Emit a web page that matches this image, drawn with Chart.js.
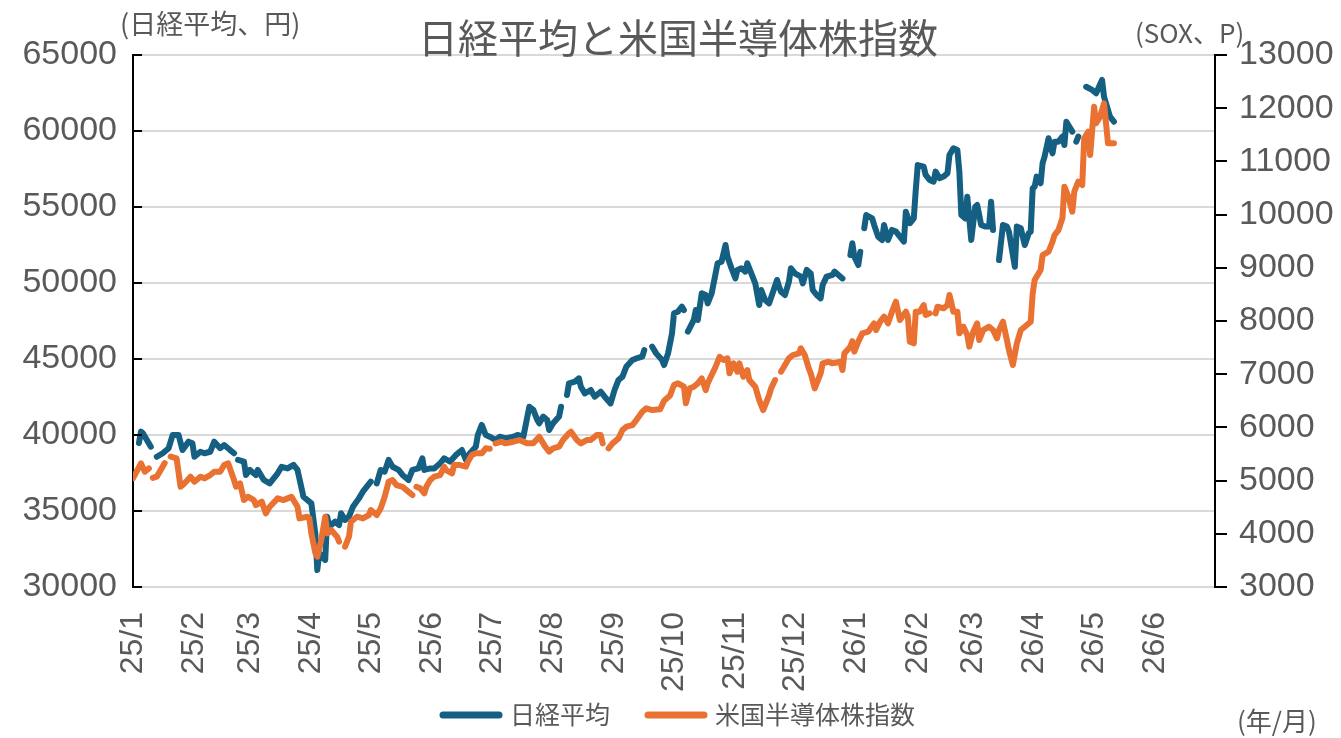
<!DOCTYPE html>
<html>
<head>
<meta charset="utf-8">
<script src="https://cdn.jsdelivr.net/npm/chart.js@4.4.1/dist/chart.umd.min.js"></script>
<style>
  html, body { margin: 0; padding: 0; background: #fff; }
</style>
</head>
<body>
<canvas id="chart" width="1341" height="738"></canvas>
<script>
// month tick labels (year/month)
const monthLabels = ['25/1','25/2','25/3','25/4','25/5','25/6','25/7','25/8','25/9','25/10','25/11','25/12',
                     '26/1','26/2','26/3','26/4','26/5','26/6'];
const monthStarts = ['25/01/01','25/02/01','25/03/01','25/04/01','25/05/01','25/06/01','25/07/01','25/08/01',
                     '25/09/01','25/10/01','25/11/01','25/12/01','26/01/01','26/02/01','26/03/01','26/04/01',
                     '26/05/01','26/06/01'];
const axisEnd = '26/07/01';

// Nikkei 225 (yen), null = market closed
const nikkeiDates = [
  '25/01/04','25/01/05','25/01/06','25/01/10','25/01/12','25/01/13','25/01/16','25/01/19','25/01/21','25/01/24','25/01/26','25/01/29','25/01/31',
  '25/02/01','25/02/04','25/02/06','25/02/09','25/02/11','25/02/14','25/02/16','25/02/19','25/02/21','25/02/22','25/02/23','25/02/26','25/02/27',
  '25/03/01','25/03/04','25/03/05','25/03/08','25/03/11','25/03/15','25/03/17','25/03/20','25/03/23','25/03/25','25/03/28','25/03/30',
  '25/04/01','25/04/03','25/04/04','25/04/05','25/04/08','25/04/09','25/04/10','25/04/13','25/04/15','25/04/16','25/04/18','25/04/20','25/04/22','25/04/25','25/04/27',
  '25/05/01','25/05/03','25/05/04','25/05/06','25/05/08','25/05/10','25/05/12','25/05/15','25/05/17','25/05/20','25/05/22','25/05/25','25/05/27','25/05/28','25/05/31',
  '25/06/02','25/06/05','25/06/07','25/06/10','25/06/13','25/06/16','25/06/18','25/06/20','25/06/23','25/06/24','25/06/26','25/06/28','25/06/30',
  '25/07/03','25/07/05','25/07/08','25/07/12','25/07/14','25/07/17','25/07/19','25/07/20','25/07/22','25/07/24','25/07/25','25/07/27','25/07/29','25/07/30',
  '25/08/01','25/08/04','25/08/05','25/08/06','25/08/08','25/08/09','25/08/12','25/08/14','25/08/15','25/08/17','25/08/20','25/08/22','25/08/25','25/08/27','25/08/30',
  '25/09/01','25/09/03','25/09/05','25/09/07','25/09/10','25/09/12','25/09/15','25/09/16','25/09/18','25/09/20','25/09/22','25/09/25','25/09/26','25/09/28','25/09/30',
  '25/10/01','25/10/03','25/10/05','25/10/06','25/10/07','25/10/08','25/10/11','25/10/12','25/10/13','25/10/15','25/10/17','25/10/18','25/10/20','25/10/22','25/10/23','25/10/25','25/10/27','25/10/28','25/10/30',
  '25/11/01','25/11/02','25/11/04','25/11/06','25/11/07','25/11/09','25/11/11','25/11/13','25/11/14','25/11/16','25/11/18','25/11/20','25/11/22','25/11/23','25/11/24','25/11/26','25/11/28','25/11/29',
  '25/12/01','25/12/04','25/12/05','25/12/07','25/12/09','25/12/10','25/12/12','25/12/14','25/12/15','25/12/17','25/12/20','25/12/21','25/12/23','25/12/25','25/12/27','25/12/29','25/12/30','25/12/31',
  '26/01/02','26/01/03','26/01/04','26/01/05','26/01/06','26/01/09','26/01/10','26/01/12','26/01/14','26/01/15','26/01/17','26/01/19','26/01/21','26/01/23','26/01/25','26/01/26','26/01/28','26/01/30','26/01/31',
  '26/02/01','26/02/04','26/02/05','26/02/07','26/02/09','26/02/10','26/02/12','26/02/14','26/02/16','26/02/17','26/02/19','26/02/21','26/02/22','26/02/23','26/02/25','26/02/26','26/02/28',
  '26/03/02','26/03/03','26/03/05','26/03/07','26/03/09','26/03/10','26/03/11','26/03/12','26/03/14','26/03/16','26/03/18','26/03/19','26/03/22','26/03/23','26/03/25','26/03/27','26/03/29','26/03/30','26/03/31',
  '26/04/01','26/04/02','26/04/04','26/04/05','26/04/06','26/04/08','26/04/10','26/04/11','26/04/13','26/04/15','26/04/16','26/04/17','26/04/19','26/04/20','26/04/21','26/04/22','26/04/23','26/04/25','26/04/27','26/04/30',
  '26/05/02','26/05/05','26/05/06','26/05/07','26/05/09','26/05/11'
];
const nikkeiValues = [
  39470,40220,40110,39230,null,38570,38800,39130,40000,40000,39010,39560,39450,
  38570,38900,38800,38900,39560,39130,39340,39010,38800,null,38360,38250,37370,
  37700,37370,37700,37040,36820,37480,37910,37800,38030,37700,35940,35720,
  35500,33530,31120,32220,31780,34630,33970,34300,34080,34850,34410,34630,35280,35830,36270,
  36930,null,36820,37700,37590,38360,37910,37700,37370,37040,37700,37800,38470,37700,37800,
  37800,38140,38470,38250,38690,39010,38360,38800,39230,40000,40660,40000,39890,
  39670,39890,39780,39890,40000,39890,41210,41860,41650,40990,40770,41210,40990,40330,
  40770,41210,41860,null,42630,43400,43510,43730,43180,42740,42960,42520,42850,42520,42080,
  42960,43620,43840,44510,44930,45040,45150,45590,null,45810,45370,44930,44600,45370,46690,
  48010,48110,48440,48220,null,46800,47570,48220,47570,49320,49210,48660,49320,50630,51300,51400,52500,51730,50970,
  50300,50860,50970,50750,51300,50630,49980,48550,49540,48880,48660,49430,50200,49760,49430,49210,50090,50970,
  50630,50420,49980,50860,50630,49540,49210,48990,49870,50420,50530,50750,50530,50300,null,51840,52610,51730,
  51180,52060,null,53600,54470,54250,53820,53050,52830,53820,52830,53490,53380,53050,52720,54690,53930,54250,56120,
  57760,57650,57110,56780,56670,57330,56890,57000,57220,58420,58860,58750,57330,54470,54250,55680,52830,
  55020,55130,53820,53710,53710,55350,53490,null,51510,53820,53710,53380,51070,53710,53600,52500,53270,53380,56230,
  56340,57000,56560,57880,58310,59520,58530,59300,59300,59630,59080,60610,60180,59960,null,59300,59630,null,62910,62700,
  62480,63360,62260,61820,60940,60610
];

// Philadelphia semiconductor index (points), null = market closed
const soxDates = [
  '25/01/01','25/01/05','25/01/07','25/01/09','25/01/10','25/01/11','25/01/13','25/01/15','25/01/17','25/01/18','25/01/20','25/01/23','25/01/25','25/01/27','25/01/30',
  '25/02/01','25/02/04','25/02/06','25/02/09','25/02/11','25/02/14','25/02/16','25/02/18','25/02/21','25/02/22','25/02/24','25/02/26','25/02/28',
  '25/03/03','25/03/04','25/03/07','25/03/09','25/03/11','25/03/15','25/03/18','25/03/20','25/03/22','25/03/25','25/03/26','25/03/30','25/03/31',
  '25/04/01','25/04/03','25/04/04','25/04/06','25/04/08','25/04/09','25/04/11','25/04/14','25/04/15','25/04/17','25/04/18','25/04/20','25/04/21','25/04/24','25/04/27','25/04/30',
  '25/05/01','25/05/04','25/05/06','25/05/08','25/05/10','25/05/12','25/05/14','25/05/17','25/05/19','25/05/22','25/05/23','25/05/24','25/05/26','25/05/28','25/05/29','25/05/31',
  '25/06/02','25/06/05','25/06/07','25/06/08','25/06/11','25/06/12','25/06/15','25/06/18','25/06/19','25/06/21','25/06/23','25/06/26','25/06/28','25/06/30',
  '25/07/02','25/07/03','25/07/06','25/07/08','25/07/12','25/07/15','25/07/19','25/07/22','25/07/25','25/07/28','25/07/30',
  '25/08/01','25/08/04','25/08/06','25/08/09','25/08/10','25/08/13','25/08/15','25/08/18','25/08/20','25/08/23','25/08/25','25/08/26','25/08/28','25/08/29','25/08/31',
  '25/09/03','25/09/05','25/09/07','25/09/10','25/09/12','25/09/15','25/09/17','25/09/20','25/09/24','25/09/26','25/09/29',
  '25/10/01','25/10/03','25/10/06','25/10/07','25/10/09','25/10/11','25/10/13','25/10/15','25/10/17','25/10/18','25/10/20','25/10/22','25/10/24','25/10/26','25/10/28','25/10/29','25/10/31',
  '25/11/02','25/11/03','25/11/05','25/11/07','25/11/08','25/11/11','25/11/13','25/11/15','25/11/18','25/11/19','25/11/21','25/11/23','25/11/24','25/11/26','25/11/28','25/11/30',
  '25/12/03','25/12/04','25/12/06','25/12/08','25/12/09','25/12/11','25/12/14','25/12/15','25/12/18','25/12/20','25/12/24','25/12/25','25/12/26','25/12/29','25/12/30','25/12/31',
  '26/01/02','26/01/04','26/01/07','26/01/10','26/01/11','26/01/13','26/01/15','26/01/17','26/01/19','26/01/21','26/01/23','26/01/26','26/01/27','26/01/28','26/01/30','26/01/31',
  '26/02/02','26/02/04','26/02/05','26/02/07','26/02/09','26/02/10','26/02/11','26/02/14','26/02/16','26/02/17','26/02/19','26/02/21','26/02/22','26/02/24','26/02/26','26/02/27',
  '26/03/01','26/03/03','26/03/04','26/03/06','26/03/09','26/03/11','26/03/13','26/03/14','26/03/16','26/03/18','26/03/19','26/03/21','26/03/23','26/03/25','26/03/27','26/03/30','26/03/31',
  '26/04/01','26/04/04','26/04/05','26/04/08','26/04/10','26/04/11','26/04/13','26/04/15','26/04/16','26/04/18','26/04/20','26/04/21','26/04/23','26/04/25','26/04/26','26/04/28','26/04/29',
  '26/05/01','26/05/02','26/05/04','26/05/06','26/05/07','26/05/08','26/05/11'
];
const soxValues = [
  5042,5324,5167,5230,null,5050,5074,5198,5330,null,5450,5418,4884,4948,5074,
  4979,5074,5042,5104,5167,5167,5292,5324,5010,4884,4948,4634,4697,
  4634,4540,4603,4384,4509,4666,4634,4666,4697,4509,4290,4321,4290,
  4008,3640,3569,3882,4321,4008,4070,3945,3851,null,3757,3945,4227,4321,4290,4352,
  4446,4352,4478,4697,4978,5010,4916,4884,4822,4728,null,4884,4854,4760,4884,5010,
  5074,5104,5262,5198,5136,5292,5292,5262,5354,5480,5512,5512,5606,5600,
  null,5700,5731,5700,5731,5762,5700,5700,5825,5638,5544,
  5606,5638,5762,5888,5919,5762,5700,5762,5762,5856,5856,5700,null,5606,5700,
  5794,5950,6014,6044,6138,6294,6358,6326,6340,6500,6600,
  6796,6828,6765,6452,6734,6765,6828,6922,6702,6828,6984,7140,7328,7266,7298,7016,7204,
  7047,7204,6952,7078,6890,6765,6514,6326,6608,6734,6890,null,7047,7172,7298,7360,
  7392,7486,7360,7110,7016,6734,7016,7204,7234,7204,7234,7078,7392,7518,7620,7424,
  7612,7768,7800,7956,7830,7987,8082,7956,8175,8363,8018,8175,8082,7612,7580,8175,
  8175,8300,8112,8144,null,8144,8269,8238,8300,8488,8175,8175,7768,7893,7736,7518,
  7799,7956,7642,7830,7893,7830,7674,7830,7987,7642,7454,7172,7580,7830,7893,7987,8520,
  8770,8958,9240,9302,9490,9616,9710,9930,10524,10336,10055,10430,10618,10556,11434,11558,11120,
  12028,11716,11840,12092,11716,11340,11340
];

const NIKKEI_COLOR = '#156082';
const SOX_COLOR = '#E97132';
const TEXT_COLOR = '#595959';
const FONT = "'Liberation Sans', 'Noto Sans CJK JP', sans-serif";
const JP_FONT = "'Noto Sans CJK JP', 'Liberation Sans', sans-serif";

// days since 2025-01-01 for a 'yy/mm/dd' string
function toDay(s) {
  const [yy, mm, dd] = s.split('/').map(Number);
  return (Date.UTC(2000 + yy, mm - 1, dd) - Date.UTC(2025, 0, 1)) / 86400000;
}

function toPoints(dates, values) {
  return dates.map((d, i) => ({ x: toDay(d), y: values[i] }));
}

Chart.defaults.font.family = FONT;
Chart.defaults.color = TEXT_COLOR;

// extra drawing: title, unit labels, legend, inward ticks on the left axis
const decorations = {
  id: 'decorations',
  afterDraw(chart) {
    const ctx = chart.ctx;
    const area = chart.chartArea;
    ctx.save();

    // inward tick marks on the left axis
    ctx.strokeStyle = '#000';
    ctx.lineWidth = 2;
    chart.scales.y.ticks.forEach(t => {
      const y = Math.round(chart.scales.y.getPixelForValue(t.value));
      ctx.beginPath();
      ctx.moveTo(area.left, y);
      ctx.lineTo(area.left + 9, y);
      ctx.stroke();
    });

    ctx.fillStyle = TEXT_COLOR;
    ctx.textBaseline = 'middle';

    // title
    ctx.font = '40px ' + JP_FONT;
    ctx.textAlign = 'center';
    ctx.fillText('日経平均と米国半導体株指数', 678, 38);

    // axis units
    ctx.font = '27px ' + JP_FONT;
    ctx.textAlign = 'left';
    ctx.fillText('(日経平均、円)', 120, 24);
    ctx.font = '26px ' + JP_FONT;
    ctx.fillText('(SOX、P)', 1135, 33);
    ctx.fillText('(年/月)', 1237, 721);

    // legend
    const items = [
      { label: '日経平均', color: NIKKEI_COLOR, x: 443 },
      { label: '米国半導体株指数', color: SOX_COLOR, x: 648 }
    ];
    ctx.font = '25px ' + JP_FONT;
    ctx.lineCap = 'round';
    ctx.lineWidth = 7;
    items.forEach(it => {
      ctx.strokeStyle = it.color;
      ctx.beginPath();
      ctx.moveTo(it.x, 715);
      ctx.lineTo(it.x + 56, 715);
      ctx.stroke();
      ctx.fillText(it.label, it.x + 67, 714);
    });

    ctx.restore();
  }
};

new Chart(document.getElementById('chart'), {
  type: 'line',
  data: {
    datasets: [
      {
        label: '日経平均',
        data: toPoints(nikkeiDates, nikkeiValues),
        yAxisID: 'y',
        borderColor: NIKKEI_COLOR,
        borderWidth: 6,
        borderCapStyle: 'round',
        borderJoinStyle: 'round',
        pointRadius: 0,
        tension: 0,
        spanGaps: false,
        order: 1
      },
      {
        label: '米国半導体株指数',
        data: toPoints(soxDates, soxValues),
        yAxisID: 'y1',
        borderColor: SOX_COLOR,
        borderWidth: 6,
        borderCapStyle: 'round',
        borderJoinStyle: 'round',
        pointRadius: 0,
        tension: 0,
        spanGaps: false,
        order: 0
      }
    ]
  },
  options: {
    responsive: false,
    animation: false,
    devicePixelRatio: 1,
    layout: { padding: { top: 55, left: 0, right: 0, bottom: 0 } },
    plugins: {
      legend: { display: false },
      title: { display: false },
      tooltip: { enabled: false }
    },
    scales: {
      x: {
        type: 'linear',
        min: 0,
        max: toDay(axisEnd),
        afterBuildTicks: scale => {
          scale.ticks = monthStarts.map(d => ({ value: toDay(d) }));
        },
        afterFit: scale => { scale.height = 151; },
        ticks: {
          autoSkip: false,
          minRotation: 90,
          maxRotation: 90,
          padding: 17,
          color: TEXT_COLOR,
          font: { size: 32 },
          callback: (value, index) => monthLabels[index]
        },
        grid: { display: false },
        border: { display: false }
      },
      y: {
        position: 'left',
        min: 30000,
        max: 65000,
        afterFit: scale => { scale.width = 133; },
        ticks: {
          stepSize: 5000,
          padding: 16,
          color: TEXT_COLOR,
          font: { size: 34 },
          callback: value => String(value)
        },
        grid: { color: '#D9D9D9', lineWidth: 2, drawTicks: false },
        border: { color: '#000', width: 2 }
      },
      y1: {
        position: 'right',
        min: 3000,
        max: 13000,
        afterFit: scale => { scale.width = 126; },
        ticks: {
          stepSize: 1000,
          padding: 12,
          color: TEXT_COLOR,
          font: { size: 34 },
          callback: value => String(value)
        },
        grid: { drawOnChartArea: false, drawTicks: true, tickLength: 12, color: '#000', lineWidth: 2 },
        border: { color: '#000', width: 2 }
      }
    }
  },
  plugins: [decorations]
});
</script>
</body>
</html>
